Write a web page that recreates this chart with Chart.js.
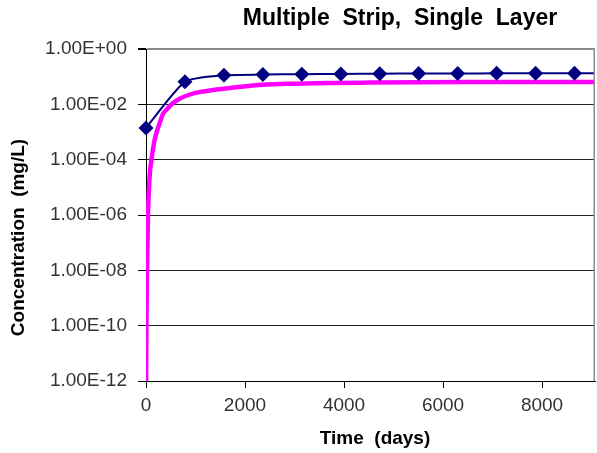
<!DOCTYPE html>
<html>
<head>
<meta charset="utf-8">
<script src="https://cdn.jsdelivr.net/npm/chart.js@4/dist/chart.umd.min.js"></script>
<style>
  html, body { margin: 0; padding: 0; background: #fff; }
  #wrap { width: 597px; height: 453px; }
</style>
</head>
<body>
<div id="wrap"><canvas id="chart" width="597" height="453"></canvas></div>
<script>
/* ---- data ---- */
const chartTitle = "Multiple  Strip,  Single  Layer";
const xTitle = "Time  (days)";
const yTitle = "Concentration  (mg/L)";

// navy series with diamond markers
const stripDays = [0, 787, 1574, 2361, 3148, 3935, 4722, 5509, 6296, 7083, 7870, 8657, 9444];
const stripConc = [0.0014, 0.065, 0.112, 0.119, 0.123, 0.126, 0.128, 0.13, 0.131, 0.132, 0.133, 0.134, 0.134];

// magenta series (no markers)
const layerDays = [0, 8, 20, 40, 70, 110, 172, 230, 280, 345, 410, 540, 680, 800, 1000, 1350, 1800, 2360, 3000, 3700, 4500, 5500, 6500, 7500, 8500, 9200];
const layerConc = [2e-13, 1e-10, 1e-8, 1e-6, 2e-5, 1e-4, 5e-4, 1.2e-3, 2.2e-3, 4.6e-3, 6.3e-3, 1.1e-2, 1.6e-2, 2.0e-2, 2.6e-2, 3.3e-2, 4.1e-2, 5.1e-2, 5.6e-2, 5.9e-2, 6.1e-2, 6.3e-2, 6.4e-2, 6.4e-2, 6.4e-2, 6.4e-2];

const xTicks = [0, 2000, 4000, 6000, 8000];
const xTickLabels = ["0", "2000", "4000", "6000", "8000"];
const yTicks = [1e-12, 1e-10, 1e-8, 1e-6, 1e-4, 1e-2, 1];
const yTickLabels = ["1.00E-12", "1.00E-10", "1.00E-08", "1.00E-06", "1.00E-04", "1.00E-02", "1.00E+00"];

const FONT = '"Liberation Sans", Arial, sans-serif';

/* ---- titles + right border drawn on the canvas ---- */
const titlesPlugin = {
    id: "titles",
    afterDraw(chart) {
        const { ctx, chartArea } = chart;
        ctx.save();
        // gray frame on the right side
        ctx.strokeStyle = "#8c8c8c";
        ctx.lineWidth = 1.5;
        ctx.beginPath();
        ctx.moveTo(chartArea.right - 0.75, chartArea.top);
        ctx.lineTo(chartArea.right - 0.75, chartArea.bottom);
        ctx.stroke();

        ctx.fillStyle = "#000";
        ctx.textAlign = "center";
        ctx.textBaseline = "alphabetic";
        ctx.font = "bold 23px " + FONT;
        ctx.fillText(chartTitle, 400, 25);

        ctx.font = "bold 19px " + FONT;
        ctx.fillText(xTitle, 375, 443.5);

        ctx.translate(24, 237.5);
        ctx.rotate(-Math.PI / 2);
        ctx.fillText(yTitle, 0, 0);
        ctx.restore();
    }
};

new Chart(document.getElementById("chart"), {
    type: "line",
    data: {
        datasets: [
            {
                data: stripDays.map((d, i) => ({ x: d, y: stripConc[i] })),
                borderColor: "#000080",
                backgroundColor: "#000080",
                borderWidth: 2,
                pointStyle: "rectRot",
                pointRadius: 7.5,
                pointHoverRadius: 7.5,
                pointBorderWidth: 0,
                tension: 0.2,
                clip: { left: 10, top: 10, right: 0, bottom: 10 }
            },
            {
                data: layerDays.map((d, i) => ({ x: d, y: layerConc[i] })),
                borderColor: "#ff00ff",
                backgroundColor: "#ff00ff",
                borderWidth: 4.5,
                pointRadius: 0,
                cubicInterpolationMode: "monotone",
                clip: 0
            }
        ]
    },
    options: {
        responsive: false,
        animation: false,
        devicePixelRatio: 1,
        layout: { autoPadding: false, padding: { left: 46, top: 49, right: 2, bottom: 0 } },
        plugins: {
            legend: { display: false },
            title: { display: false },
            tooltip: { enabled: false }
        },
        scales: {
            x: {
                type: "linear",
                min: 0,
                max: 9070,
                afterFit: (scale) => { scale.height = 72; },
                afterBuildTicks: (scale) => { scale.ticks = xTicks.map(v => ({ value: v })); },
                ticks: {
                    includeBounds: false,
                    padding: 6,
                    color: "#333",
                    font: { family: FONT, size: 19 },
                    maxRotation: 0,
                    callback: (v) => {
                        const i = xTicks.indexOf(v);
                        return i >= 0 ? xTickLabels[i] : "";
                    }
                },
                grid: {
                    drawOnChartArea: false,
                    tickLength: 7,
                    color: "#000",
                    lineWidth: 1
                },
                border: { color: "#000", width: 1 }
            },
            y: {
                type: "logarithmic",
                min: 1e-12,
                max: 1,
                afterFit: (scale) => { scale.width = 100; },
                afterBuildTicks: (scale) => { scale.ticks = yTicks.map(v => ({ value: v })); },
                ticks: {
                    padding: 11,
                    color: "#333",
                    font: { family: FONT, size: 19 },
                    callback: (v) => {
                        const i = yTicks.findIndex(t => Math.abs(Math.log10(t) - Math.log10(v)) < 1e-6);
                        return i >= 0 ? yTickLabels[i] : "";
                    }
                },
                grid: {
                    tickLength: 8,
                    color: (c) => (c.tick && c.tick.value === 1 ? "#8c8c8c" : "#222"),
                    lineWidth: (c) => (c.tick && c.tick.value === 1 ? 2 : 1),
                    tickColor: "#000"
                },
                border: { color: "#000", width: 1 }
            }
        }
    },
    plugins: [titlesPlugin]
});
</script>
</body>
</html>
